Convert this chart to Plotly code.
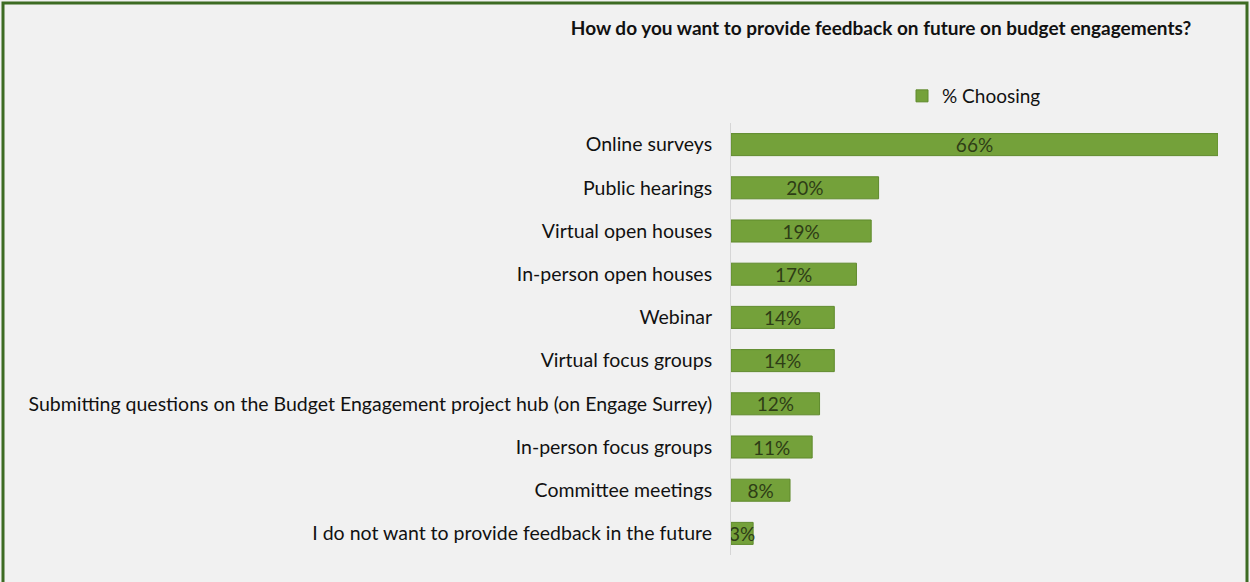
import plotly.graph_objects as go

# Survey responses: share of respondents choosing each feedback channel
categories = [
    "Online surveys",
    "Public hearings",
    "Virtual open houses",
    "In-person open houses",
    "Webinar",
    "Virtual focus groups",
    "Submitting questions on the Budget Engagement project hub (on Engage Surrey)",
    "In-person focus groups",
    "Committee meetings",
    "I do not want to provide feedback in the future",
]
percent_choosing = [66, 20, 19, 17, 14, 14, 12, 11, 8, 3]
series_name = "% Choosing"
title_text = "How do you want to provide feedback on future on budget engagements?"

W, H = 1250, 582
M_L, M_R, M_T, M_B = 731, 32, 123, 27
plot_w = W - M_L - M_R
plot_h = H - M_T - M_B

BAR = "#74a13a"
FONT = "Lato, 'Open Sans', sans-serif"


def px_to_paper_x(px):
    return (px - M_L) / plot_w


def px_to_paper_y(py):
    return 1 - (py - M_T) / plot_h


fig = go.Figure(
    go.Bar(
        x=percent_choosing,
        y=categories,
        orientation="h",
        name=series_name,
        marker=dict(color=BAR, line=dict(color="#5f8a2c", width=1)),
        text=[f"{v}%" for v in percent_choosing],
        textposition="inside",
        insidetextanchor="middle",
        constraintext="none",
        textangle=0,
        textfont=dict(family=FONT, size=19, color="#2e3d16"),
        showlegend=True,
    )
)

# Outer frame around the whole chart
fig.add_shape(
    type="rect", xref="paper", yref="paper",
    x0=px_to_paper_x(3), x1=px_to_paper_x(W - 3),
    y0=px_to_paper_y(H + 5), y1=px_to_paper_y(3),
    line=dict(color="#3d6b23", width=3), fillcolor="rgba(0,0,0,0)",
    layer="below",
)

fig.update_layout(
    width=W,
    height=H,
    margin=dict(l=M_L, r=M_R, t=M_T, b=M_B),
    paper_bgcolor="#f1f1f1",
    plot_bgcolor="#f1f1f1",
    bargap=0.49,
    font=dict(family=FONT, size=19, color="#111111"),
    title=dict(
        text=f"<b>{title_text}</b>",
        x=px_to_paper_x(881), xref="paper", xanchor="center",
        y=1 - 28 / H, yanchor="middle",
        font=dict(family=FONT, size=19, color="#111111"),
    ),
    legend=dict(
        orientation="h",
        x=px_to_paper_x(1046), y=px_to_paper_y(96),
        xanchor="right", yanchor="middle",
        bgcolor="rgba(0,0,0,0)",
        font=dict(family=FONT, size=19, color="#111111"),
        itemwidth=30,
    ),
    xaxis=dict(
        range=[0, 66], visible=False, showgrid=False, zeroline=False,
    ),
    yaxis=dict(
        autorange="reversed",
        showgrid=False,
        showline=True, linecolor="#d6d6d6", linewidth=1,
        ticks="", ticklabelstandoff=14,
        tickfont=dict(family=FONT, size=19.5, color="#111111"),
    ),
)

fig.write_html("out.html")
